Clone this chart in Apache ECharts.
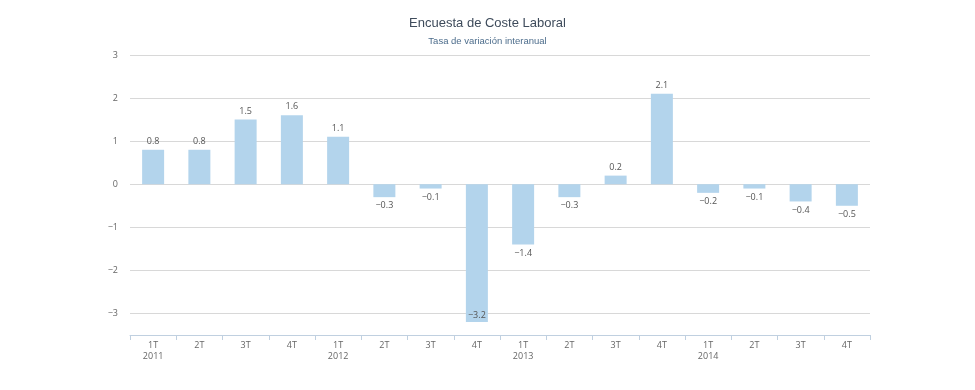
<!DOCTYPE html>
<html><head><meta charset="utf-8">
<script src="https://cdn.jsdelivr.net/npm/echarts@6/dist/echarts.min.js"></script>
<style>html,body{margin:0;padding:0;background:#fff}#c{width:975px;height:390px}</style>
</head><body><div id="c"></div>
<script>
var quarters = ['1T','2T','3T','4T','1T','2T','3T','4T','1T','2T','3T','4T','1T','2T','3T','4T'];
var years = ['2011','','','','2012','','','','2013','','','','2014','','',''];
var values = [0.8, 0.8, 1.5, 1.6, 1.1, -0.3, -0.1, -3.2, -1.4, -0.3, 0.2, 2.1, -0.2, -0.1, -0.4, -0.5];
var yTicks = [-3, -2, -1, 0, 1, 2, 3];

function fmt(v){ return String(v).replace('-', '\u2212'); }
var cats = quarters.map(function(q,i){ return years[i] ? q + '\n' + years[i] : q; });
var data = values.map(function(v){
  var lbl = v >= 0 ? {position:'top'} : (v < -3 ? {position:'insideBottom', distance:2} : {position:'bottom'});
  return {value: v, label: lbl};
});

var chart = echarts.init(document.getElementById('c'));
chart.setOption({
  animation: false,
  title: {
    text: 'Encuesta de Coste Laboral',
    subtext: 'Tasa de variación interanual',
    left: 'center', top: 12, itemGap: 6,
    textStyle: {fontFamily: 'Liberation Sans', fontSize: 13, fontWeight: 'normal', color: '#3e4b5b'},
    subtextStyle: {fontFamily: 'Liberation Sans', fontSize: 9.5, color: '#4d6d8c'}
  },
  grid: {left: 130, right: 105, top: 55, bottom: 55},
  xAxis: {
    type: 'category', data: cats,
    axisLine: {onZero: false, lineStyle: {color: '#c0d0e0'}},
    axisTick: {show: true, length: 5, lineStyle: {color: '#c0d0e0'}},
    axisLabel: {fontFamily: 'Open Sans', fontSize: 9, color: '#666', margin: 5, lineHeight: 11}
  },
  yAxis: {
    type: 'value', min: -3.5, max: 3, interval: 0.5,
    axisLine: {show: false}, axisTick: {show: false},
    axisLabel: {
      fontFamily: 'Open Sans', fontSize: 9, color: '#666', margin: 12,
      formatter: function(v){ return yTicks.indexOf(v) >= 0 ? fmt(v) : ''; }
    },
    splitLine: {show: true, lineStyle: {color: ['transparent', '#d8d8d8'], width: 1}}
  },
  series: [{
    type: 'bar', data: data, barWidth: 22,
    itemStyle: {color: '#b3d4ec'},
    label: {show: true, fontFamily: 'Open Sans', fontSize: 9, color: '#555', distance: 4,
      formatter: function(p){ return fmt(p.value); }}
  }]
});
</script></body></html>
